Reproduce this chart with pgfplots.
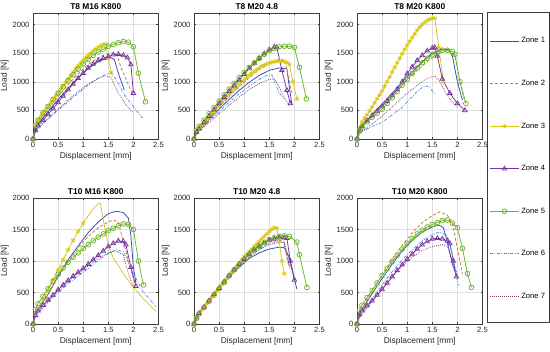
\documentclass[border=0pt]{standalone}
\usepackage{fontspec}
\setmainfont{Liberation Sans}
\usepackage{pgfplots}
\pgfplotsset{compat=1.18}
\definecolor{c1}{RGB}{50,70,190}
\definecolor{c2}{RGB}{200,120,50}
\definecolor{c3}{RGB}{215,200,20}
\definecolor{c4}{RGB}{120,50,160}
\definecolor{c5}{RGB}{110,180,40}
\definecolor{c6}{RGB}{90,140,220}
\definecolor{c7}{RGB}{130,60,100}
\definecolor{axc}{RGB}{60,60,60}
\pgfplotsset{
  ax/.style={scale only axis, width=125.5pt, height=126pt, anchor=south west,
    xmin=0, xmax=2.5, ymin=0,
    xtick={0,0.5,1,1.5,2,2.5}, ytick={0,500,1000,1500,2000},
    scaled ticks=false,
    /pgf/number format/1000 sep={},
    /pgf/number format/assume math mode=true,
    grid=major, grid style={black!13, line width=0.4pt},
    axis line style={axc, line width=0.5pt},
    major tick length=2pt, tick style={axc, line width=0.4pt},
    tick label style={font=\fontsize{7.6}{8}\selectfont, text=black!85},
    label style={font=\fontsize{8.4}{9}\selectfont, text=black!85},
    title style={font=\fontsize{8.4}{9}\selectfont\bfseries, yshift=-6.5pt},
    xlabel={Displacement [mm]}, ylabel={Load [N]},
    xlabel style={yshift=2pt}, ylabel style={yshift=-3pt},
    every axis plot/.append style={line width=0.75pt},
    legend image code/.code={\draw[mark repeat=2,mark phase=2,#1] plot coordinates {(0pt,0pt) (14.5pt,0pt) (29pt,0pt)};},
  },
  z1/.style={color=c1, solid, mark=none},
  z2/.style={color=c2, dash pattern=on 3pt off 2pt, mark=none},
  z3/.style={color=c3, solid, mark=asterisk, mark size=2.3pt, mark options={solid}},
  z4/.style={color=c4, solid, mark=triangle, mark size=2.6pt, mark options={solid}},
  z5/.style={color=c5, solid, mark=o, mark size=2.4pt, mark options={solid}},
  z6/.style={color=c6, dash pattern=on 3pt off 1.5pt on 0.8pt off 1.5pt, mark=none},
  z7/.style={color=c7, dash pattern=on 0.8pt off 1.2pt, mark=none},
}
\begin{document}
\begin{tikzpicture}[x=1pt,y=1pt]
\path[use as bounding box] (0,0) rectangle (550,352);
% ---------- T8 M16 K800 ----------
\begin{axis}[ax, at={(33pt,213pt)}, ymax=2200, title={T8 M16 K800}]
\addplot[z1] coordinates {(0,0)(0.05,180)(0.1,260)(0.3,480)(0.5,690)(0.7,890)(0.9,1070)(1.1,1230)(1.3,1350)(1.45,1400)(1.55,1420)(1.62,1390)(1.7,1150)(1.82,850)};
\addplot[z2] coordinates {(0,0)(0.05,200)(0.1,290)(0.3,520)(0.5,740)(0.7,950)(0.9,1140)(1.1,1300)(1.3,1420)(1.45,1480)(1.6,1500)(1.68,1460)(1.75,1250)(1.85,1050)(2.0,750)};
\addplot[z3] coordinates {(0,0)(0.05,230)(0.1,330)(0.15,390)(0.2,450)(0.25,510)(0.3,570)(0.35,630)(0.4,690)(0.45,750)(0.5,810)(0.55,870)(0.6,930)(0.65,990)(0.7,1050)(0.75,1110)(0.8,1170)(0.85,1230)(0.9,1280)(0.95,1330)(1.0,1380)(1.05,1420)(1.1,1460)(1.15,1500)(1.2,1540)(1.25,1570)(1.3,1600)(1.35,1630)(1.4,1650)(1.45,1660)(1.5,1400)(1.56,1160)};
\addplot[z4] coordinates {(0,0)(0.05,150)(0.1,230)(0.2,330)(0.3,430)(0.4,530)(0.5,640)(0.6,750)(0.7,860)(0.8,960)(0.9,1060)(1.0,1150)(1.1,1240)(1.2,1310)(1.3,1370)(1.4,1410)(1.5,1440)(1.6,1470)(1.7,1480)(1.8,1460)(1.88,1420)(1.95,1300)(2.0,800)};
\addplot[z5] coordinates {(0,0)(0.05,240)(0.1,330)(0.2,460)(0.3,570)(0.4,690)(0.5,800)(0.6,910)(0.7,1020)(0.8,1120)(0.9,1220)(1.0,1310)(1.1,1390)(1.2,1460)(1.3,1520)(1.4,1570)(1.5,1620)(1.6,1650)(1.7,1680)(1.8,1700)(1.9,1690)(2.0,1610)(2.1,1150)(2.24,650)};
\addplot[z6] coordinates {(0,0)(0.05,120)(0.1,180)(0.3,350)(0.5,500)(0.7,650)(0.9,800)(1.1,940)(1.3,1060)(1.45,1130)(1.55,1150)(1.65,1050)(1.8,800)(2.0,560)(2.2,350)};
\addplot[z7] coordinates {(0,0)(0.05,130)(0.1,190)(0.3,360)(0.5,520)(0.7,680)(0.9,830)(1.1,960)(1.3,1060)(1.45,1100)(1.55,1080)(1.7,800)(1.85,600)(2.0,450)};
\end{axis}
% ---------- T8 M20 4.8 ----------
\begin{axis}[ax, at={(194pt,213pt)}, ymax=2200, title={T8 M20 4.8}]
\addplot[z1] coordinates {(0,0)(0.05,100)(0.1,160)(0.3,340)(0.5,520)(0.7,690)(0.9,850)(1.1,990)(1.3,1110)(1.5,1200)(1.7,1240)(1.85,1230)(1.9,900)(1.95,600)};
\addplot[z2] coordinates {(0,0)(0.05,110)(0.1,170)(0.3,370)(0.5,560)(0.7,740)(0.9,910)(1.1,1070)(1.3,1210)(1.5,1320)(1.7,1390)(1.8,1380)(1.88,1100)(1.95,800)};
\addplot[z3] coordinates {(0,0)(0.05,120)(0.1,180)(0.15,230)(0.2,280)(0.25,330)(0.3,380)(0.35,430)(0.4,480)(0.45,530)(0.5,580)(0.55,630)(0.6,680)(0.65,730)(0.7,780)(0.75,830)(0.8,870)(0.85,910)(0.9,950)(0.95,990)(1.0,1030)(1.05,1070)(1.1,1110)(1.15,1150)(1.2,1180)(1.25,1210)(1.3,1240)(1.35,1270)(1.4,1290)(1.45,1310)(1.5,1330)(1.55,1340)(1.6,1350)(1.65,1360)(1.7,1360)(1.75,1360)(1.8,1350)(1.85,1340)(1.9,1300)(1.97,1000)(2.05,700)};
\addplot[z4] coordinates {(0,0)(0.05,120)(0.1,180)(0.2,290)(0.3,400)(0.4,510)(0.5,620)(0.6,730)(0.7,830)(0.8,930)(0.9,1030)(1.0,1130)(1.1,1230)(1.2,1320)(1.3,1410)(1.4,1490)(1.5,1560)(1.6,1610)(1.65,1600)(1.75,1200)(1.85,850)(1.92,620)};
\addplot[z5] coordinates {(0,0)(0.05,150)(0.1,220)(0.2,330)(0.3,440)(0.4,550)(0.5,660)(0.6,770)(0.7,870)(0.8,970)(0.9,1070)(1.0,1160)(1.1,1250)(1.2,1330)(1.3,1410)(1.4,1480)(1.5,1540)(1.6,1580)(1.7,1610)(1.8,1620)(1.9,1620)(2.0,1600)(2.1,1250)(2.24,700)};
\addplot[z6] coordinates {(0,0)(0.05,90)(0.1,140)(0.3,310)(0.5,480)(0.7,640)(0.9,790)(1.1,920)(1.3,1040)(1.45,1110)(1.55,1120)(1.6,1000)(1.7,800)(1.8,700)};
\addplot[z7] coordinates {(0,0)(0.05,80)(0.1,130)(0.3,290)(0.5,440)(0.7,590)(0.9,730)(1.1,860)(1.3,970)(1.5,1040)(1.6,1050)(1.7,900)(1.8,720)(1.9,580)};
\end{axis}
% ---------- T8 M20 K800 ----------
\begin{axis}[ax, at={(357pt,213pt)}, ymax=2200, title={T8 M20 K800}]
\addplot[z1] coordinates {(0,0)(0.05,160)(0.1,230)(0.3,430)(0.5,610)(0.7,800)(0.9,990)(1.1,1180)(1.3,1350)(1.5,1500)(1.7,1570)(1.82,1560)(1.9,1450)(2.0,1000)(2.1,680)};
\addplot[z2] coordinates {(0,0)(0.05,150)(0.1,220)(0.3,410)(0.5,590)(0.7,770)(0.9,950)(1.1,1120)(1.3,1280)(1.5,1420)(1.7,1520)(1.85,1540)(1.95,1450)(2.05,1000)(2.15,650)};
\addplot[z3] coordinates {(0,0)(0.05,200)(0.1,300)(0.15,360)(0.2,420)(0.25,490)(0.3,560)(0.35,630)(0.4,700)(0.45,770)(0.5,840)(0.55,920)(0.6,1000)(0.65,1085)(0.7,1170)(0.75,1250)(0.8,1330)(0.85,1410)(0.9,1490)(0.95,1565)(1.0,1640)(1.05,1705)(1.1,1770)(1.15,1835)(1.2,1900)(1.25,1950)(1.3,2000)(1.35,2035)(1.4,2070)(1.45,2090)(1.5,2110)(1.55,2110)(1.63,1600)(1.72,1000)};
\addplot[z4] coordinates {(0,0)(0.05,150)(0.1,220)(0.2,320)(0.3,410)(0.4,490)(0.5,570)(0.6,660)(0.7,760)(0.8,870)(0.9,1000)(1.0,1140)(1.1,1260)(1.2,1370)(1.3,1460)(1.4,1540)(1.5,1590)(1.55,1600)(1.6,1450)(1.7,1050)(1.85,800)(2.0,620)(2.15,500)};
\addplot[z5] coordinates {(0,0)(0.05,150)(0.1,210)(0.2,300)(0.3,380)(0.4,450)(0.5,520)(0.6,620)(0.7,720)(0.8,830)(0.9,940)(1.0,1040)(1.1,1140)(1.2,1240)(1.3,1330)(1.4,1410)(1.5,1470)(1.6,1520)(1.7,1550)(1.8,1550)(1.9,1530)(1.95,1480)(2.05,1000)(2.17,620)};
\addplot[z6] coordinates {(0,0)(0.05,80)(0.1,130)(0.3,220)(0.5,290)(0.7,420)(0.9,550)(1.0,650)(1.1,740)(1.2,830)(1.3,900)(1.37,930)(1.45,900)(1.55,780)};
\addplot[z7] coordinates {(0,0)(0.05,90)(0.1,140)(0.3,260)(0.5,400)(0.7,560)(0.9,720)(1.0,800)(1.2,940)(1.4,1060)(1.55,1100)(1.65,1000)(1.8,750)(2.0,550)};
\end{axis}
% ---------- T10 M16 K800 ----------
\begin{axis}[ax, at={(33pt,28pt)}, ymax=2000, title={T10 M16 K800}]
\addplot[z1] coordinates {(0,0)(0.05,150)(0.1,230)(0.3,470)(0.5,760)(0.7,1020)(0.9,1240)(1.1,1450)(1.3,1620)(1.5,1750)(1.65,1790)(1.8,1770)(1.9,1680)(1.95,1400)(2.0,900)(2.05,650)};
\addplot[z2] coordinates {(0,0)(0.05,150)(0.1,230)(0.3,470)(0.5,740)(0.7,990)(0.9,1210)(1.1,1390)(1.3,1530)(1.5,1620)(1.6,1650)(1.7,1620)(1.8,1300)(1.87,1100)(1.95,850)(2.05,600)};
\addplot[z3, mark indices={1,2,3,4,5,6,7,8,9,10,11,12}] coordinates {(0,0)(0.05,150)(0.1,240)(0.2,380)(0.3,540)(0.4,700)(0.5,860)(0.6,1020)(0.7,1180)(0.8,1330)(0.9,1470)(1.0,1600)(1.1,1720)(1.2,1830)(1.3,1910)(1.34,1920)(1.4,1650)(1.5,1250)(1.6,1050)(1.8,800)(2.0,580)(2.2,400)(2.45,200)};
\addplot[z4] coordinates {(0,0)(0.05,140)(0.1,210)(0.2,300)(0.3,380)(0.4,460)(0.5,545)(0.6,620)(0.7,690)(0.8,760)(0.9,820)(1.0,880)(1.1,950)(1.2,1020)(1.3,1090)(1.4,1160)(1.5,1230)(1.6,1280)(1.7,1320)(1.8,1310)(1.85,1260)(1.95,900)(2.05,600)};
\addplot[z5] coordinates {(0,0)(0.05,230)(0.1,320)(0.2,440)(0.3,560)(0.4,680)(0.5,790)(0.6,890)(0.7,980)(0.8,1060)(0.9,1130)(1.0,1200)(1.1,1260)(1.2,1320)(1.3,1380)(1.4,1430)(1.5,1480)(1.6,1520)(1.7,1560)(1.8,1590)(1.9,1580)(2.0,1500)(2.1,1000)(2.2,620)};
\addplot[z6] coordinates {(0,0)(0.05,110)(0.1,170)(0.3,340)(0.5,500)(0.7,640)(0.9,760)(1.1,880)(1.3,1010)(1.5,1120)(1.65,1180)(1.8,1150)(2.0,800)(2.2,500)(2.45,280)};
\addplot[z7] coordinates {(0,0)(0.05,120)(0.1,180)(0.3,360)(0.5,530)(0.7,670)(0.9,800)(1.1,920)(1.3,1040)(1.5,1130)(1.65,1160)(1.8,1100)(1.9,800)(2.0,600)};
\end{axis}
% ---------- T10 M20 4.8 ----------
\begin{axis}[ax, at={(194pt,28pt)}, ymax=2000, title={T10 M20 4.8}]
\addplot[z1] coordinates {(0,0)(0.05,100)(0.1,170)(0.3,370)(0.5,560)(0.7,750)(0.9,900)(1.1,1040)(1.3,1130)(1.5,1190)(1.7,1220)(1.8,1210)(1.9,1050)(2.05,550)};
\addplot[z2] coordinates {(0,0)(0.05,100)(0.1,170)(0.3,380)(0.5,580)(0.7,780)(0.9,960)(1.1,1120)(1.3,1250)(1.5,1340)(1.7,1390)(1.78,1380)(1.85,1050)(1.9,900)};
\addplot[z3] coordinates {(0,0)(0.05,100)(0.1,170)(0.15,220)(0.2,270)(0.25,320)(0.3,370)(0.35,420)(0.4,470)(0.45,520)(0.5,570)(0.55,620)(0.6,670)(0.65,720)(0.7,770)(0.75,820)(0.8,870)(0.85,920)(0.9,970)(0.95,1020)(1.0,1070)(1.05,1110)(1.1,1150)(1.15,1190)(1.2,1230)(1.25,1270)(1.3,1310)(1.35,1350)(1.4,1390)(1.45,1430)(1.5,1470)(1.55,1500)(1.6,1530)(1.65,1520)(1.7,1300)(1.75,1000)(1.8,800)};
\addplot[z4] coordinates {(0,0)(0.05,100)(0.1,170)(0.2,270)(0.3,370)(0.4,470)(0.5,570)(0.6,670)(0.7,770)(0.8,860)(0.9,950)(1.0,1030)(1.1,1110)(1.2,1180)(1.3,1240)(1.4,1290)(1.5,1330)(1.6,1350)(1.7,1370)(1.8,1370)(1.85,1360)(1.92,1000)(2.0,700)};
\addplot[z5] coordinates {(0,0)(0.05,90)(0.1,160)(0.2,260)(0.3,360)(0.4,460)(0.5,560)(0.6,660)(0.7,760)(0.8,860)(0.9,940)(1.0,1020)(1.1,1100)(1.2,1170)(1.3,1230)(1.4,1290)(1.5,1340)(1.6,1370)(1.7,1390)(1.8,1400)(1.9,1390)(2.05,1300)(2.1,1100)(2.25,580)};
\addplot[z6] coordinates {(0,0)(0.05,100)(0.1,170)(0.3,370)(0.5,570)(0.7,760)(0.9,930)(1.1,1080)(1.3,1200)(1.5,1280)(1.7,1330)(1.78,1300)(1.85,1100)(1.92,850)};
\addplot[z7] coordinates {(0,0)(0.05,100)(0.1,170)(0.3,370)(0.5,560)(0.7,750)(0.9,920)(1.1,1060)(1.3,1180)(1.5,1260)(1.7,1300)(1.8,1290)(1.88,1050)(1.95,850)};
\end{axis}
% ---------- T10 M20 K800 ----------
\begin{axis}[ax, at={(357pt,28pt)}, ymax=2000, title={T10 M20 K800},
  legend style={at={(1.055,2.29)}, anchor=north west, draw=none, fill=none,
    inner sep=0pt, row sep=31.8pt, font=\fontsize{7.6}{8}\selectfont,
    cells={anchor=west}}]
\addplot[z1] coordinates {(0,0)(0.05,150)(0.1,230)(0.3,480)(0.5,720)(0.7,950)(0.9,1160)(1.1,1330)(1.3,1460)(1.5,1540)(1.63,1570)(1.72,1530)(1.8,1300)(1.9,950)(1.98,770)};
\addplot[z2] coordinates {(0,0)(0.05,170)(0.1,250)(0.3,520)(0.5,780)(0.7,1030)(0.9,1250)(1.1,1450)(1.3,1610)(1.5,1720)(1.65,1780)(1.8,1730)(1.9,1600)(2.0,1200)(2.1,800)};
\addplot[z3] coordinates {(0,0)};
\addplot[z4] coordinates {(0,0)(0.05,150)(0.1,210)(0.2,290)(0.3,370)(0.4,460)(0.5,550)(0.6,650)(0.7,750)(0.8,850)(0.9,940)(1.0,1030)(1.1,1110)(1.2,1190)(1.3,1260)(1.4,1310)(1.5,1350)(1.6,1360)(1.7,1350)(1.8,1320)(1.85,1280)(1.92,1000)(1.98,750)};
\addplot[z5] coordinates {(0,0)(0.05,220)(0.1,300)(0.2,420)(0.3,530)(0.4,650)(0.5,770)(0.6,880)(0.7,990)(0.8,1090)(0.9,1190)(1.0,1280)(1.1,1360)(1.2,1430)(1.3,1490)(1.4,1540)(1.5,1580)(1.6,1610)(1.7,1640)(1.8,1650)(1.9,1600)(2.0,1530)(2.1,1200)(2.2,800)(2.28,580)};
\addplot[z6] coordinates {(0,0)(0.05,110)(0.1,170)(0.3,400)(0.5,620)(0.7,830)(0.9,1020)(1.1,1180)(1.3,1320)(1.5,1420)(1.65,1460)(1.8,1400)(1.9,1100)(2.02,610)};
\addplot[z7] coordinates {(0,0)(0.05,100)(0.1,160)(0.3,350)(0.5,550)(0.7,740)(0.9,920)(1.1,1060)(1.3,1170)(1.5,1230)(1.7,1260)(1.8,1230)(1.9,1000)(2.0,800)};
\legend{Zone 1,Zone 2,Zone 3,Zone 4,Zone 5,Zone 6,Zone 7}
\end{axis}
\draw[axc, line width=0.5pt] (487,30) rectangle (549,340);
\end{tikzpicture}
\end{document}
